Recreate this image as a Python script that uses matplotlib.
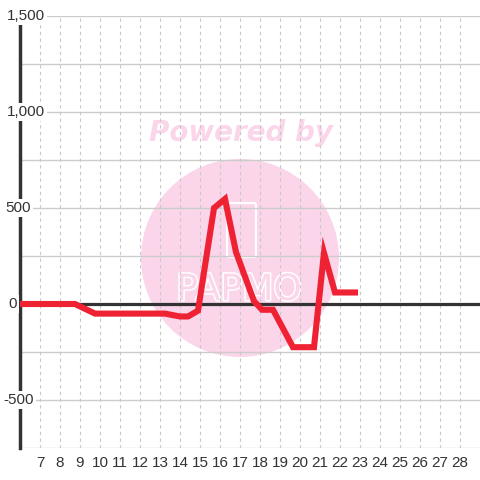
import matplotlib
matplotlib.use("Agg")
import matplotlib.pyplot as plt
import matplotlib.patheffects as pe
from matplotlib.patches import Circle, FancyBboxPatch
from matplotlib.transforms import blended_transform_factory

# data
days = [6, 8.75, 9.75, 13.25, 14.0, 14.4, 14.9, 15.7, 16.25, 16.8,
        17.7, 18.1, 18.65, 19.65, 20.7, 21.2, 21.75, 22.9]
values = [0, 0, -50, -50, -65, -65, -35, 500, 547, 270,
          15, -30, -30, -225, -225, 266, 60, 60]
x_ticks = list(range(7, 29))
y_labels = [1500, 1000, 500, 0, -500]
y_label_text = ["1,500", "1,000", "500", "0", "-500"]

plt.rcParams['font.family'] = ['Liberation Sans', 'DejaVu Sans']

fig = plt.figure(figsize=(4.8, 4.8), dpi=100)
ax = fig.add_axes([20 / 480, 32 / 480, 460 / 480, 432 / 480])
ax.set_xlim(6, 29)
ax.set_ylim(-750, 1500)

# grid
for v in range(-750, 1501, 250):
    ax.axhline(v, color='#cccccc', lw=1, zorder=0.5)
for d in x_ticks:
    ax.axvline(d, color='#c8c8c8', lw=0.8, ls=(0, (3, 3)), zorder=0.5)

# watermark (pixel positions, origin bottom-left)
pink = '#fbd5ea'
ax.add_patch(Circle((240, 480 - 258), 99, transform=None, facecolor=pink,
                    edgecolor='none', zorder=0.2))
ax.text(241 / 480, 1 - 133 / 480, "Powered by", transform=fig.transFigure,
        fontsize=20, color=pink, fontweight='bold', style='italic',
        family='DejaVu Sans', ha='center', va='center', zorder=0.3)
ax.add_patch(FancyBboxPatch((229, 480 - 255), 25, 50, transform=None,
                            boxstyle='round,pad=2', facecolor='none',
                            edgecolor='white', lw=1.6, zorder=0.3))
ax.text(239 / 480, 1 - 290 / 480, "PAPMO", transform=fig.transFigure,
        fontsize=26, color=pink, family='DejaVu Sans', ha='center',
        va='center', zorder=0.3,
        path_effects=[pe.withStroke(linewidth=2.2, foreground='white')])

# zero line and series
ax.axhline(0, color='#333333', lw=2.3, zorder=2)
ax.plot(days, values, color='#ee2233', lw=4.4, solid_joinstyle='miter',
        solid_capstyle='butt', zorder=3)

# axes styling
for s in ['top', 'right', 'bottom']:
    ax.spines[s].set_visible(False)
ax.spines['left'].set_color('#333333')
ax.spines['left'].set_linewidth(2.5)
ax.spines['left'].set_zorder(2.5)
ax.set_yticks([])
ax.set_xticks(x_ticks)
ax.tick_params(axis='x', length=0, pad=6, labelsize=11, labelcolor='#333333')

trans = blended_transform_factory(ax.transAxes, ax.transData)
lefts = [7, 7, 5, 8, 3]
for v, t, lx in zip(y_labels, y_label_text, lefts):
    ax.text((lx - 20) / 460, v, t, transform=trans, ha='left', va='center',
            fontsize=11, color='#333333', zorder=4, clip_on=False,
            bbox=dict(facecolor='white', edgecolor='none', pad=1.5))

fig.savefig("out.png", dpi=100)
